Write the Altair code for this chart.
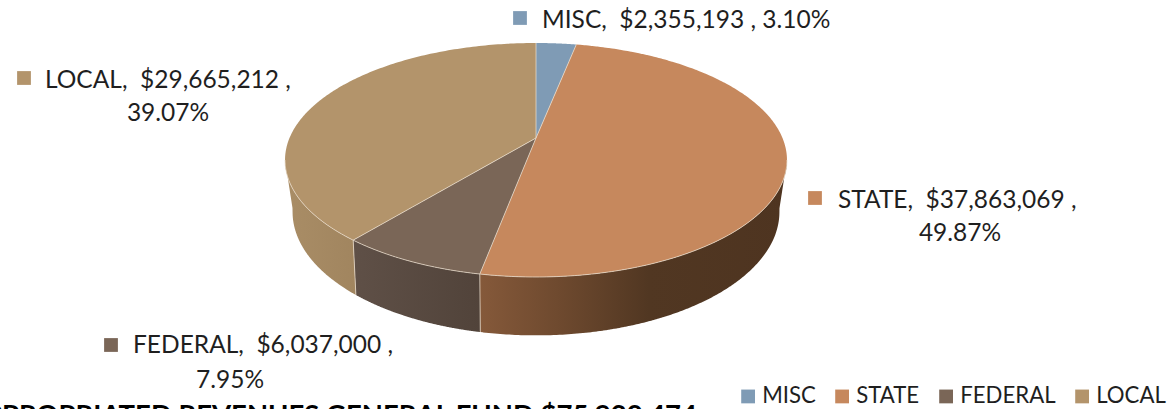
import math
import altair as alt
import pandas as pd

# Revenue breakdown
categories = ["MISC", "STATE", "FEDERAL", "LOCAL"]
amounts = [2355193, 37863069, 6037000, 29665212]
percents = [3.10, 49.87, 7.95, 39.07]
top_colors = ["#7f9bb5", "#c6885d", "#7a6657", "#b3946b"]
side_stops = {
    "STATE": [("#85593a", 0.0), ("#6f4a2f", 0.25), ("#513722", 0.55), ("#4e3420", 1.0)],
    "FEDERAL": [("#5f5047", 0.0), ("#51433a", 1.0)],
    "LOCAL": [("#a98d66", 0.0), ("#a1855f", 1.0)],
}
footer = "APPROPRIATED REVENUES GENERAL FUND $75,920,474"

WIDTH, HEIGHT = 1172, 409
FONT = "Lato"
LABEL_SIZE = 24.5
INK = "#1f1f1f"

# Perspective disc: apex position, radii and foreshortening of the two rims
APEX_X = 536
TOP = dict(y0=138.0, a=246.5, b=112.86, k=0.188)
BOTTOM = dict(y0=186.0, a=238.0, b=118.0, k=0.21)


def rim_point(theta, rim):
    u, v = math.sin(theta), math.cos(theta)
    d = 1 + rim["k"] * v
    return APEX_X + rim["a"] * u / d, rim["y0"] - rim["b"] * v / d


def arc(t0, t1, rim, n=160):
    return [rim_point(t0 + (t1 - t0) * i / n, rim) for i in range(n + 1)]


def scanline(poly):
    """Turn a polygon into x / y / y2 rows for an area mark."""
    xs = sorted({round(p[0], 2) for p in poly})
    rows = []
    closed = poly + [poly[0]]
    for x in xs:
        hits = []
        for (x0, y0), (x1, y1) in zip(closed, closed[1:]):
            lo, hi = min(x0, x1), max(x0, x1)
            if lo - 0.006 <= x <= hi + 0.006:
                if abs(x1 - x0) < 1e-9:
                    hits += [y0, y1]
                else:
                    f = min(1, max(0, (x - x0) / (x1 - x0)))
                    hits.append(y0 + (y1 - y0) * f)
        if hits:
            rows.append({"x": x, "y": min(hits), "y2": max(hits)})
    return rows


total = sum(amounts)
bounds = [0.0]
for amount in amounts:
    bounds.append(bounds[-1] + amount / total * 2 * math.pi)

x_scale = alt.Scale(domain=[0, WIDTH], nice=False, zero=False)
y_scale = alt.Scale(domain=[HEIGHT, 0], nice=False, zero=False)
X = alt.X("x:Q", scale=x_scale, axis=None)
Y = alt.Y("y:Q", scale=y_scale, axis=None, stack=None)

layers = []

# Side wall, visible only between the silhouette tangents
side_lo = math.acos(-TOP["k"])
side_hi = 2 * math.pi - side_lo
for i, cat in enumerate(categories):
    t0, t1 = max(bounds[i], side_lo), min(bounds[i + 1], side_hi)
    if t1 <= t0:
        continue
    poly = arc(t0, t1, TOP) + arc(t0, t1, BOTTOM)[::-1]
    df = pd.DataFrame(scanline(poly))
    fill = alt.Gradient(
        gradient="linear",
        stops=[alt.GradientStop(color=c, offset=o) for c, o in side_stops[cat]],
        x1=0, x2=1, y1=0, y2=0,
    )
    layers.append(
        alt.Chart(df).mark_area(color=fill, clip=False).encode(x=X, y=Y, y2="y2:Q")
    )

# Top face, one wedge per category; it carries the legend
rows = []
for i, cat in enumerate(categories):
    poly = [(APEX_X, TOP["y0"])] + arc(bounds[i], bounds[i + 1], TOP)
    for r in scanline(poly):
        rows.append({**r, "cat": cat})
top_df = pd.DataFrame(rows)
layers.append(
    alt.Chart(top_df).mark_area().encode(
        x=X, y=Y, y2="y2:Q",
        color=alt.Color(
            "cat:N",
            scale=alt.Scale(domain=categories, range=top_colors),
            sort=categories,
            legend=alt.Legend(
                title=None, orient="none", direction="horizontal",
                legendX=737, legendY=385,
                symbolType="square", symbolSize=190, symbolOpacity=1,
                symbolStrokeWidth=0, labelFont=FONT, labelFontSize=22.2,
                labelColor=INK, labelOffset=3, columnPadding=15, padding=0,
            ),
        ),
    )
)

# Pale seams along the wedge edges and the front rim
seams = []
sid = 0
for t in bounds[:-1]:
    pts = [(APEX_X, TOP["y0"]), rim_point(t, TOP)]
    if side_lo < t < side_hi:
        pts.append(rim_point(t, BOTTOM))
    for j, (x, y) in enumerate(pts):
        seams.append({"x": x, "y": y, "seam": sid, "i": j})
    sid += 1
for j, (x, y) in enumerate(arc(side_lo, side_hi, TOP, 240)):
    seams.append({"x": x, "y": y, "seam": sid, "i": j})
layers.append(
    alt.Chart(pd.DataFrame(seams)).mark_line(
        color="#eadccb", strokeWidth=1, opacity=0.75
    ).encode(x=X, y=Y, detail="seam:N", order="i:Q")
)

# Callouts: swatch, then the label on one or two lines
callouts = {
    "MISC": dict(sw=(520, 18), lines=[(542, 28, "left")]),
    "STATE": dict(sw=(815, 198), lines=[(838, 208, "left"), (960, 241, "center")]),
    "FEDERAL": dict(sw=(111, 345), lines=[(133, 353, "left"), (230, 388, "center")]),
    "LOCAL": dict(sw=(24, 78), lines=[(45, 88, "left"), (168, 121, "center")]),
}
for cat, amount, pct, color in zip(categories, amounts, percents, top_colors):
    spot = callouts[cat]
    head = f"{cat},\u00a0\u00a0${amount:,}\u00a0,"
    tail = f"{pct:.2f}%"
    texts = [f"{head} {tail}"] if len(spot["lines"]) == 1 else [head, tail]
    sw_df = pd.DataFrame([{"x": spot["sw"][0], "y": spot["sw"][1]}])
    layers.append(
        alt.Chart(sw_df).mark_square(size=190, color=color, opacity=1).encode(x=X, y=Y)
    )
    for (x, y, align), text in zip(spot["lines"], texts):
        t_df = pd.DataFrame([{"x": x, "y": y, "t": text}])
        layers.append(
            alt.Chart(t_df).mark_text(
                font=FONT, fontSize=LABEL_SIZE, color=INK, align=align,
                baseline="alphabetic",
            ).encode(x=X, y=Y, text="t:N")
        )

# Heading that runs off the lower edge of the page
layers.append(
    alt.Chart(pd.DataFrame([{"x": 697, "y": 424, "t": footer}])).mark_text(
        font=FONT, fontSize=27.5, fontWeight="bold", color="#000000",
        align="right", baseline="alphabetic",
    ).encode(x=X, y=Y, text="t:N")
)

chart = (
    alt.layer(*layers)
    .properties(
        width=WIDTH, height=HEIGHT, padding=0,
        autosize=alt.AutoSizeParams(type="none"),
        background="#ffffff",
    )
    .configure_view(stroke=None)
)
chart.save("out.html", embed_options={"renderer": "svg", "actions": False})
